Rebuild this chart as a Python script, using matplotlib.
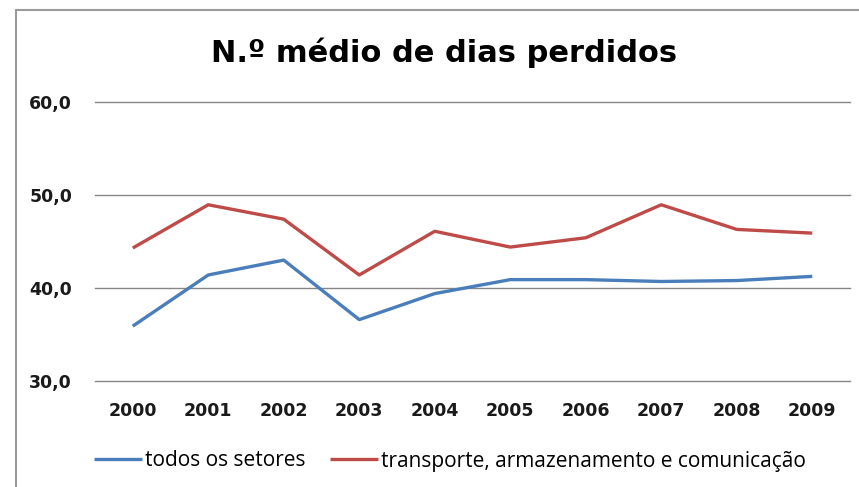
import matplotlib
matplotlib.use("Agg")
import matplotlib.pyplot as plt
from matplotlib.patches import Rectangle

plt.rcParams['font.family'] = ['DejaVu Sans']

years = ["2000", "2001", "2002", "2003", "2004", "2005", "2006", "2007", "2008", "2009"]
todos = [35.9, 41.4, 43.0, 36.6, 39.4, 40.9, 40.9, 40.7, 40.8, 41.25]
transporte = [44.3, 48.95, 47.4, 41.4, 46.1, 44.4, 45.4, 48.95, 46.3, 45.9]
yticks = [30, 40, 50, 60]
ytick_labels = ["30,0", "40,0", "50,0", "60,0"]
title = "N.º médio de dias perdidos"
labels = ["todos os setores", "transporte, armazenamento e comunicação"]

W, H = 859, 487
fig = plt.figure(figsize=(W / 100, H / 100), dpi=100)
fig.patch.set_facecolor("white")
fig.add_artist(Rectangle((16 / W, -0.1), 1.2, 1.1 - 10 / H, transform=fig.transFigure,
                         fill=False, edgecolor="#9a9a9a", linewidth=1.5))

left, right, top, bottom = 95, 850, 102, 381
ax = fig.add_axes([left / W, 1 - bottom / H, (right - left) / W, (bottom - top) / H])
x = list(range(len(years)))
ax.plot(x, todos, color="#4A7EBB", linewidth=2.4, label=labels[0], solid_capstyle="butt")
ax.plot(x, transporte, color="#BE4B48", linewidth=2.4, label=labels[1], solid_capstyle="butt")
ax.set_xlim(-0.5, len(years) - 0.5)
ax.set_ylim(30, 60)
ax.set_yticks(yticks)
ax.set_yticklabels(ytick_labels)
ax.set_xticks(x)
ax.set_xticklabels(years)
ax.yaxis.grid(True, color="#868686", linewidth=1.0)
for gl in ax.get_ygridlines():
    gl.set_clip_on(False)
ax.set_axisbelow(True)
for s in ax.spines.values():
    s.set_visible(False)
ax.tick_params(axis="both", length=0, labelsize=12.5, colors="#1a1a1a")
ax.tick_params(axis="y", pad=16.5)
ax.tick_params(axis="x", pad=15)
for t in ax.get_xticklabels() + ax.get_yticklabels():
    t.set_fontweight("bold")

fig.text(444 / W, 1 - 53 / H, title, ha="center", va="center", fontsize=22,
         fontweight="bold", color="black", family=["DejaVu Sans"])

leg = fig.legend(loc="center", bbox_to_anchor=(450 / W, 1 - 461 / H), ncol=2,
                 frameon=False, handlelength=2.3, handletextpad=0.15,
                 columnspacing=1.2, prop={"family": ["Open Sans", "DejaVu Sans"], "size": 15})

fig.savefig("out.png", dpi=100, facecolor="white")
